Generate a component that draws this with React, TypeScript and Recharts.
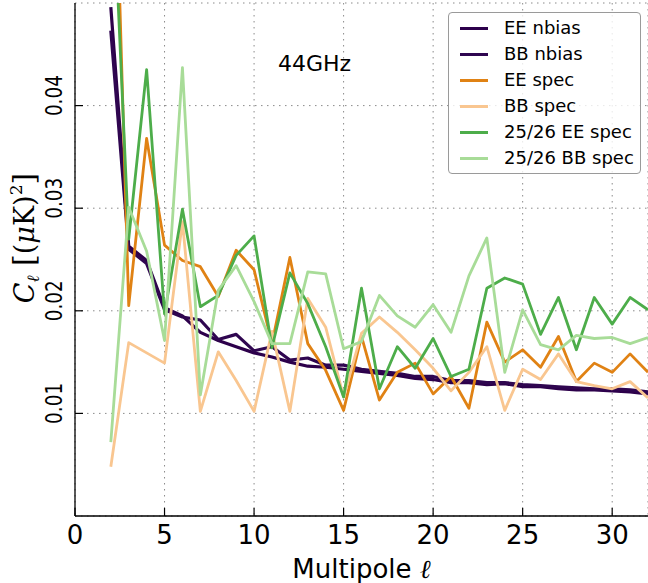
import React from 'react';
import { LineChart, Line, XAxis, YAxis, CartesianGrid, Legend, Customized } from 'recharts';

// Multipole values
const ell = [2, 3, 4, 5, 6, 7, 8, 9, 10, 11, 12, 13, 14, 15, 16, 17, 18, 19, 20, 21, 22, 23, 24, 25, 26, 27, 28, 29, 30, 31, 32];

// C_ell values in (muK)^2
const eeNbias = [0.0496, 0.0263, 0.0249, 0.0203, 0.0195, 0.0179, 0.0171, 0.0165, 0.0159, 0.0155, 0.0150, 0.0146, 0.0145, 0.0143, 0.0141, 0.0139, 0.0137, 0.0134, 0.0133, 0.0130, 0.0130, 0.0128, 0.0129, 0.0126, 0.0126, 0.0124, 0.0123, 0.0123, 0.0122, 0.0121, 0.0119];
const bbNbias = [0.0473, 0.0260, 0.0246, 0.0201, 0.0194, 0.0191, 0.0172, 0.0177, 0.0161, 0.0165, 0.0152, 0.0154, 0.0147, 0.0147, 0.0143, 0.0141, 0.0139, 0.0136, 0.0136, 0.0132, 0.0132, 0.0130, 0.0130, 0.0128, 0.0127, 0.0126, 0.0125, 0.0124, 0.0124, 0.0123, 0.0121];
const eeSpec = [0.080, 0.0205, 0.0368, 0.0264, 0.0249, 0.0243, 0.0214, 0.0259, 0.0240, 0.0168, 0.0252, 0.0168, 0.0142, 0.0103, 0.0175, 0.0113, 0.0140, 0.0149, 0.0119, 0.0136, 0.0105, 0.0189, 0.0150, 0.0162, 0.0145, 0.0175, 0.0131, 0.0149, 0.0140, 0.0158, 0.0140];
const bbSpec = [0.0048, 0.0169, 0.0159, 0.0149, 0.0287, 0.0102, 0.0160, 0.0132, 0.0102, 0.0180, 0.0102, 0.0212, 0.0184, 0.0116, 0.0178, 0.0194, 0.0179, 0.0162, 0.0144, 0.0122, 0.0140, 0.0165, 0.0103, 0.0143, 0.0133, 0.0158, 0.0131, 0.0127, 0.0124, 0.0131, 0.0115];
const ee2526Spec = [0.066, 0.0270, 0.0435, 0.0197, 0.0299, 0.0204, 0.0215, 0.0254, 0.0273, 0.0164, 0.0237, 0.0207, 0.0165, 0.0116, 0.0222, 0.0124, 0.0165, 0.0144, 0.0173, 0.0136, 0.0143, 0.0222, 0.0232, 0.0226, 0.0177, 0.0213, 0.0162, 0.0213, 0.0187, 0.0213, 0.0201];
const bb2526Spec = [0.0072, 0.0301, 0.0258, 0.0171, 0.0437, 0.0118, 0.0220, 0.0244, 0.0209, 0.0168, 0.0168, 0.0238, 0.0236, 0.0163, 0.0170, 0.0215, 0.0195, 0.0184, 0.0206, 0.0179, 0.0234, 0.0271, 0.0140, 0.0201, 0.0167, 0.0162, 0.0176, 0.0173, 0.0174, 0.0168, 0.0174];

const xTicks = [0, 5, 10, 15, 20, 25, 30];
const yTicks = [0.01, 0.02, 0.03, 0.04];

const series = [
  { key: 'eeNbias', name: 'EE nbias', color: '#2d004b', width: 3.2, values: eeNbias },
  { key: 'bbNbias', name: 'BB nbias', color: '#2f0650', width: 3.2, values: bbNbias },
  { key: 'eeSpec', name: 'EE spec', color: '#e08214', width: 2.8, values: eeSpec },
  { key: 'bbSpec', name: 'BB spec', color: '#f9c690', width: 2.8, values: bbSpec },
  { key: 'ee2526', name: '25/26 EE spec', color: '#4dad4a', width: 2.8, values: ee2526Spec },
  { key: 'bb2526', name: '25/26 BB spec', color: '#a8dc98', width: 2.8, values: bb2526Spec },
];

const data = ell.map((l, i) => {
  const row: any = { l };
  series.forEach((s) => {
    row[s.key] = s.values[i];
  });
  return row;
});

const FONT = 'DejaVu Sans, sans-serif';

const XTickBottom = (p: any) => (
  <g>
    <line x1={p.x} x2={p.x} y1={p.y} y2={p.y - 8} stroke="#000" strokeWidth={1.2} />
    <text x={p.x} y={p.y + 28} textAnchor="middle" fontSize={26} fontFamily={FONT} fill="#000">
      {p.payload.value}
    </text>
  </g>
);

const XTickTop = (p: any) => (
  <line x1={p.x} x2={p.x} y1={p.y} y2={p.y + 8} stroke="#000" strokeWidth={1.2} />
);

const YTickLeft = (p: any) => (
  <g>
    <line x1={p.x} x2={p.x + 8} y1={p.y} y2={p.y} stroke="#000" strokeWidth={1.2} />
    <text
      transform={`translate(${p.x - 13},${p.y - 10}) rotate(-90)`}
      textAnchor="middle"
      fontSize={23}
      fontFamily={FONT}
      fill="#000"
      textLength={41}
      lengthAdjust="spacingAndGlyphs"
    >
      {Number(p.payload.value).toFixed(2)}
    </text>
  </g>
);

const YTickRight = (p: any) => (
  <line x1={p.x - 8} x2={p.x} y1={p.y} y2={p.y} stroke="#000" strokeWidth={1.2} />
);

const renderLegend = () => (
  <div
    style={{
      width: 193,
      height: 162,
      boxSizing: 'border-box',
      border: '1px solid #9a9a9a',
      borderRadius: 4,
      background: 'rgba(255,255,255,0.8)',
      paddingTop: 2,
      fontFamily: FONT,
      fontSize: 18,
      color: '#000',
    }}
  >
    {series.map((s) => (
      <div key={s.key} style={{ height: 26, display: 'flex', alignItems: 'center' }}>
        <div style={{ marginLeft: 11, width: 28, height: 3, background: s.color }} />
        <span style={{ marginLeft: 16, lineHeight: '26px', whiteSpace: 'nowrap' }}>{s.name}</span>
      </div>
    ))}
  </div>
);

const Annotations = () => (
  <g>
    <text x={278} y={71} fontSize={22} fontFamily={FONT} fill="#000">
      44GHz
    </text>
    <text x={361.5} y={578} textAnchor="middle" fontSize={26} fontFamily={FONT} fill="#000">
      Multipole{' '}
      <tspan fontFamily="DejaVu Serif, serif" fontStyle="italic">
        ℓ
      </tspan>
    </text>
    <text
      transform="translate(34,238) rotate(-90)"
      textAnchor="middle"
      fontFamily="DejaVu Serif, serif"
      fontSize={27}
      fill="#000"
    >
      <tspan fontStyle="italic">C</tspan>
      <tspan fontStyle="italic" fontSize={17} dy={5}>
        ℓ
      </tspan>
      <tspan dy={-5} fontSize={30}> [</tspan>
      <tspan>(</tspan>
      <tspan fontStyle="italic">μ</tspan>
      <tspan>K)</tspan>
      <tspan fontSize={17} dy={-12}>
        2
      </tspan>
      <tspan dy={12} fontSize={30}>]</tspan>
    </text>
  </g>
);

export default function App() {
  return (
    <div style={{ position: 'absolute', left: 0, top: 0, width: 648, height: 583, background: '#fff' }}>
      <LineChart width={648} height={583} data={data} margin={{ top: 3, right: 0, bottom: 0, left: 0 }}>
        <CartesianGrid stroke="#8a8a8a" strokeWidth={1} strokeDasharray="1.5 4.5" />
        <XAxis
          dataKey="l"
          type="number"
          domain={[0, 32]}
          ticks={xTicks}
          allowDataOverflow
          height={67}
          tickSize={0}
          tickMargin={0}
          tickLine={false}
          axisLine={{ stroke: '#000', strokeWidth: 1.3 }}
          tick={XTickBottom}
          interval={0}
        />
        <XAxis
          xAxisId="top"
          orientation="top"
          type="number"
          domain={[0, 32]}
          ticks={xTicks}
          allowDataOverflow
          height={0}
          tickSize={0}
          tickMargin={0}
          tickLine={false}
          axisLine={{ stroke: '#000', strokeWidth: 1.3 }}
          tick={XTickTop}
          interval={0}
        />
        <YAxis
          type="number"
          domain={[0, 0.05]}
          ticks={yTicks}
          allowDataOverflow
          width={75}
          tickSize={0}
          tickMargin={0}
          tickLine={false}
          axisLine={{ stroke: '#000', strokeWidth: 1.3 }}
          tick={YTickLeft}
          interval={0}
        />
        <YAxis
          yAxisId="right"
          orientation="right"
          type="number"
          domain={[0, 0.05]}
          ticks={yTicks}
          allowDataOverflow
          width={0}
          tickSize={0}
          tickMargin={0}
          tickLine={false}
          axisLine={{ stroke: '#000', strokeWidth: 1.3 }}
          tick={YTickRight}
          interval={0}
        />
        {series.map((s) => (
          <Line
            key={s.key}
            type="linear"
            dataKey={s.key}
            name={s.name}
            stroke={s.color}
            strokeWidth={s.width}
            strokeLinejoin="round"
            dot={false}
            activeDot={false}
            isAnimationActive={false}
          />
        ))}
        <Legend
          content={renderLegend}
          layout="vertical"
          verticalAlign="middle"
          align="center"
          wrapperStyle={{ left: 448, top: 12, width: 193 }}
        />
        <Customized component={Annotations} />
      </LineChart>
    </div>
  );
}
